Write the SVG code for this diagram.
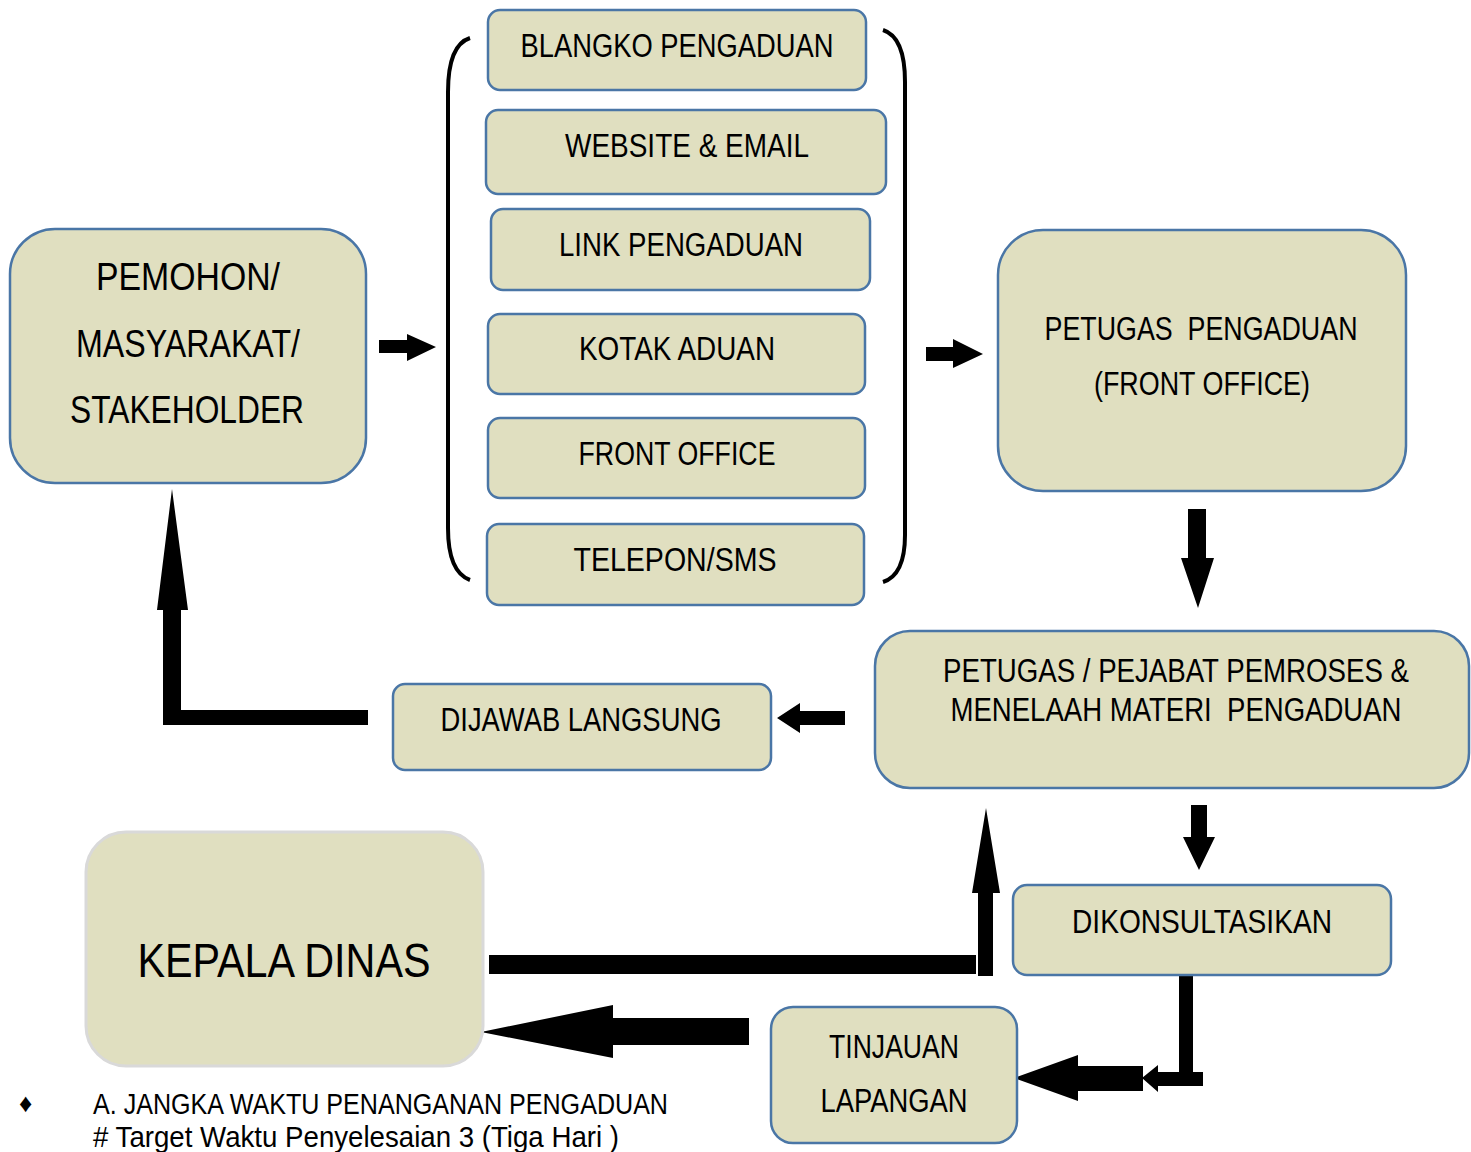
<svg xmlns="http://www.w3.org/2000/svg" width="1471" height="1152" viewBox="0 0 1471 1152">
<style>
.box{fill:#E0DFC0;stroke:#4A76A6;stroke-width:2.5}
.boxg{fill:#E0DFC0;stroke:#D9D9D9;stroke-width:3}
.t{font-family:"Liberation Sans Narrow","Liberation Sans",Arial,sans-serif;fill:#000;text-anchor:middle}
.s33{font-size:33px}
.s38{font-size:38px}
.s49{font-size:49px}
.fn{font-family:"Liberation Sans Narrow","Liberation Sans",Arial,sans-serif;font-size:30px;fill:#000}
.arr{fill:#000}
.br{fill:none;stroke:#000;stroke-width:4}
</style>
<rect width="1471" height="1152" fill="#fff"/>
<g id="connectors">
<path class="br" d="M470,38 Q448,45 448,92 L448,528 Q448,572 470,580"/>
<path class="br" d="M883,30 Q905,37 905,82 L905,535 Q905,575 883,582"/>
<polygon class="arr" points="379,340 407,340 407,334 436,347 407,361 407,353 379,353"/>
<polygon class="arr" points="926,347 953,347 953,339 983,354 953,368 953,361 926,361"/>
<polygon class="arr" points="1188,509 1206,509 1206,558 1214,558 1198,608 1181,558 1188,558"/>
<polygon class="arr" points="845,711 800,711 800,703 777,718 800,733 800,725 845,725"/>
<polygon class="arr" points="368,710 181,710 181,610 188,610 172,489 157,610 163,610 163,725 368,725"/>
<polygon class="arr" points="1191,805 1207,805 1207,837 1215,837 1199,870 1183,837 1191,837"/>
<polygon class="arr" points="1179,969 1193,969 1193,1072 1203,1072 1203,1086 1158,1086 1158,1092 1142,1078 1158,1065 1158,1072 1179,1072"/>
<polygon class="arr" points="1143,1066 1078,1066 1078,1055 1014,1078 1078,1101 1078,1091 1143,1091"/>
<rect class="arr" x="489" y="955" width="487" height="19"/>
<polygon class="arr" points="978,976 993,976 993,893 1000,893 986,808 972,893 978,893"/>
<polygon class="arr" points="749,1018 613,1018 613,1005 481,1032 613,1058 613,1045 749,1045"/>
</g>
<g id="pemohon">
<rect class="box" x="10" y="229" width="356" height="254" rx="45"/>
<text class="t s38" x="188" y="290" textLength="184" lengthAdjust="spacingAndGlyphs">PEMOHON/</text>
<text class="t s38" x="188" y="357" textLength="224" lengthAdjust="spacingAndGlyphs">MASYARAKAT/</text>
<text class="t s38" x="187" y="423" textLength="234" lengthAdjust="spacingAndGlyphs">STAKEHOLDER</text>
</g>
<g id="blangko">
<rect class="box" x="488" y="10" width="378" height="80" rx="12"/>
<text class="t s33" x="677" y="57" textLength="313" lengthAdjust="spacingAndGlyphs">BLANGKO PENGADUAN</text>
</g>
<g id="website">
<rect class="box" x="486" y="110" width="400" height="84" rx="12"/>
<text class="t s33" x="687" y="157" textLength="244" lengthAdjust="spacingAndGlyphs">WEBSITE &amp; EMAIL</text>
</g>
<g id="link">
<rect class="box" x="491" y="209" width="379" height="81" rx="12"/>
<text class="t s33" x="681" y="256" textLength="244" lengthAdjust="spacingAndGlyphs">LINK PENGADUAN</text>
</g>
<g id="kotak">
<rect class="box" x="488" y="314" width="377" height="80" rx="12"/>
<text class="t s33" x="677" y="360" textLength="196" lengthAdjust="spacingAndGlyphs">KOTAK ADUAN</text>
</g>
<g id="frontoffice">
<rect class="box" x="488" y="418" width="377" height="80" rx="12"/>
<text class="t s33" x="677" y="465" textLength="197" lengthAdjust="spacingAndGlyphs">FRONT OFFICE</text>
</g>
<g id="telepon">
<rect class="box" x="487" y="524" width="377" height="81" rx="12"/>
<text class="t s33" x="675" y="571" textLength="203" lengthAdjust="spacingAndGlyphs">TELEPON/SMS</text>
</g>
<g id="petugas">
<rect class="box" x="998" y="230" width="408" height="261" rx="45"/>
<text class="t s33" x="1201" y="340" xml:space="preserve" textLength="313" lengthAdjust="spacingAndGlyphs">PETUGAS  PENGADUAN</text>
<text class="t s33" x="1202" y="395" textLength="216" lengthAdjust="spacingAndGlyphs">(FRONT OFFICE)</text>
</g>
<g id="pejabat">
<rect class="box" x="875" y="631" width="594" height="157" rx="35"/>
<text class="t s33" x="1176" y="682" textLength="466" lengthAdjust="spacingAndGlyphs">PETUGAS / PEJABAT PEMROSES &amp;</text>
<text class="t s33" x="1176" y="721" xml:space="preserve" textLength="451" lengthAdjust="spacingAndGlyphs">MENELAAH MATERI  PENGADUAN</text>
</g>
<g id="dijawab">
<rect class="box" x="393" y="684" width="378" height="86" rx="12"/>
<text class="t s33" x="581" y="731" textLength="281" lengthAdjust="spacingAndGlyphs">DIJAWAB LANGSUNG</text>
</g>
<g id="dikonsultasikan">
<rect class="box" x="1013" y="885" width="378" height="90" rx="14"/>
<text class="t s33" x="1202" y="933" textLength="260" lengthAdjust="spacingAndGlyphs">DIKONSULTASIKAN</text>
</g>
<g id="tinjauan">
<rect class="box" x="771" y="1007" width="246" height="136" rx="22"/>
<text class="t s33" x="894" y="1058" textLength="130" lengthAdjust="spacingAndGlyphs">TINJAUAN</text>
<text class="t s33" x="894" y="1112" textLength="147" lengthAdjust="spacingAndGlyphs">LAPANGAN</text>
</g>
<g id="kepala">
<rect class="boxg" x="86" y="832" width="397" height="234" rx="40"/>
<text class="t s49" x="284" y="977" textLength="293" lengthAdjust="spacingAndGlyphs">KEPALA DINAS</text>
</g>
<g id="footnote">
<text class="fn" x="19" y="1112" style="font-size:26px">♦</text>
<text class="fn" x="93" y="1114" textLength="575" lengthAdjust="spacingAndGlyphs">A. JANGKA WAKTU PENANGANAN PENGADUAN</text>
<text class="fn" x="93" y="1147" textLength="526" lengthAdjust="spacingAndGlyphs"># Target Waktu Penyelesaian 3 (Tiga Hari )</text>
</g>
</svg>
